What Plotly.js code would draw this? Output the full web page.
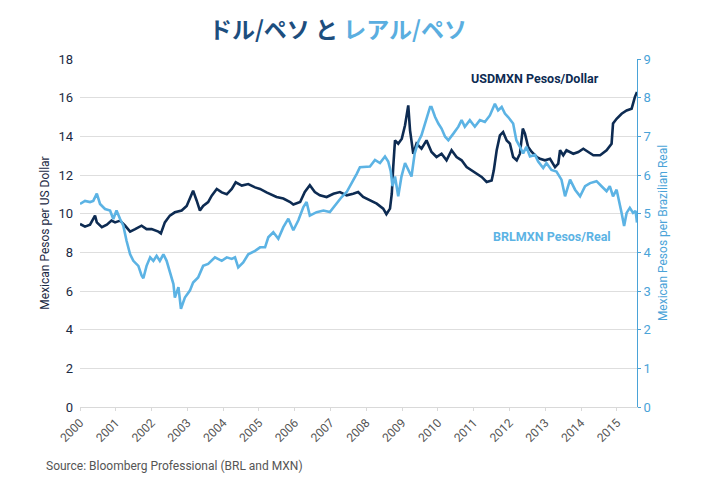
<!DOCTYPE html>
<html>
<head>
<meta charset="utf-8">
<script src="https://cdn.plot.ly/plotly-3.0.1.min.js"></script>
<style>html,body{margin:0;padding:0;background:#fff;}#chart{width:720px;height:500px;}</style>
</head>
<body>
<div id="chart"></div>
<script>
// USDMXN: Mexican pesos per US dollar (left axis), x = fractional year
var usdYears = [2000.00,2000.14,2000.28,2000.42,2000.47,2000.61,2000.75,2000.88,2000.98,2001.12,2001.26,2001.40,2001.54,2001.72,2001.86,2002.00,2002.19,2002.26,2002.37,2002.51,2002.65,2002.84,2002.98,2003.07,2003.16,2003.26,2003.35,2003.44,2003.58,2003.68,2003.82,2003.96,2004.10,2004.24,2004.35,2004.52,2004.70,2004.89,2005.03,2005.21,2005.40,2005.49,2005.68,2005.87,2005.96,2006.15,2006.28,2006.42,2006.56,2006.70,2006.89,2007.08,2007.26,2007.45,2007.63,2007.77,2007.91,2008.10,2008.29,2008.47,2008.56,2008.66,2008.71,2008.75,2008.80,2008.89,2008.99,2009.08,2009.13,2009.17,2009.22,2009.27,2009.31,2009.40,2009.54,2009.68,2009.82,2009.96,2010.10,2010.24,2010.38,2010.52,2010.66,2010.80,2010.94,2011.08,2011.22,2011.36,2011.50,2011.56,2011.64,2011.73,2011.82,2011.92,2012.01,2012.10,2012.20,2012.29,2012.37,2012.43,2012.52,2012.62,2012.76,2012.85,2012.99,2013.13,2013.27,2013.36,2013.41,2013.50,2013.59,2013.78,2013.92,2014.06,2014.20,2014.34,2014.53,2014.71,2014.85,2014.89,2014.99,2015.13,2015.27,2015.41,2015.50,2015.56];
var usdValues = [9.47,9.33,9.43,9.90,9.55,9.30,9.43,9.64,9.55,9.64,9.38,9.07,9.20,9.38,9.20,9.20,9.07,8.98,9.55,9.90,10.07,10.16,10.40,10.84,11.19,10.67,10.16,10.40,10.60,10.93,11.28,11.10,11.00,11.28,11.62,11.45,11.53,11.36,11.28,11.10,10.95,10.86,10.78,10.60,10.47,10.60,11.12,11.47,11.12,10.95,10.86,11.03,11.12,10.95,11.03,11.12,10.86,10.69,10.52,10.26,9.97,10.26,11.03,12.41,13.79,13.62,13.88,14.57,15.09,15.60,14.31,13.53,13.10,13.62,13.36,13.79,13.19,12.93,13.10,12.76,13.28,12.93,12.76,12.41,12.24,12.07,11.90,11.64,11.72,12.24,13.28,14.05,14.22,13.79,13.62,12.93,12.76,13.10,14.40,14.14,13.45,13.19,12.93,12.84,12.76,12.84,12.41,12.59,13.28,13.02,13.28,13.10,13.19,13.36,13.19,13.02,13.02,13.28,13.62,14.66,14.91,15.17,15.34,15.43,16.03,16.29];

// BRLMXN: Mexican pesos per Brazilian real (right axis)
var brlYears = [2000.00,2000.14,2000.28,2000.37,2000.47,2000.56,2000.70,2000.84,2000.93,2001.02,2001.12,2001.21,2001.30,2001.40,2001.49,2001.63,2001.72,2001.77,2001.86,2001.96,2002.05,2002.14,2002.23,2002.33,2002.42,2002.51,2002.61,2002.65,2002.75,2002.82,2002.93,2003.07,2003.16,2003.30,2003.44,2003.58,2003.77,2003.96,2004.10,2004.24,2004.33,2004.42,2004.56,2004.70,2004.89,2005.03,2005.17,2005.26,2005.40,2005.54,2005.68,2005.82,2005.96,2006.10,2006.24,2006.33,2006.42,2006.61,2006.80,2006.98,2007.17,2007.31,2007.45,2007.54,2007.63,2007.73,2007.82,2008.10,2008.24,2008.38,2008.52,2008.61,2008.68,2008.73,2008.80,2008.89,2008.98,2009.08,2009.17,2009.26,2009.35,2009.45,2009.54,2009.68,2009.78,2009.82,2009.92,2010.01,2010.10,2010.20,2010.29,2010.43,2010.57,2010.66,2010.75,2010.89,2011.03,2011.17,2011.31,2011.45,2011.59,2011.68,2011.78,2011.87,2011.96,2012.10,2012.19,2012.29,2012.38,2012.47,2012.57,2012.71,2012.80,2012.94,2013.03,2013.17,2013.31,2013.45,2013.55,2013.69,2013.83,2013.97,2014.11,2014.25,2014.43,2014.57,2014.71,2014.80,2014.89,2014.99,2015.06,2015.13,2015.20,2015.27,2015.36,2015.45,2015.52,2015.56];
var brlValues = [5.25,5.33,5.30,5.33,5.52,5.25,5.12,5.08,4.86,5.08,4.86,4.69,4.30,3.95,3.78,3.65,3.40,3.33,3.65,3.87,3.78,3.91,3.78,3.95,3.78,3.52,3.18,2.83,3.10,2.54,2.83,3.01,3.22,3.35,3.65,3.70,3.87,3.78,3.87,3.83,3.87,3.61,3.74,3.95,4.04,4.13,4.13,4.39,4.52,4.35,4.65,4.87,4.57,4.83,5.17,5.30,4.95,5.04,5.08,5.04,5.26,5.43,5.56,5.73,5.86,6.03,6.20,6.22,6.39,6.31,6.48,6.35,6.10,5.71,5.96,5.45,5.96,6.31,6.13,5.96,6.56,6.86,7.03,7.42,7.76,7.76,7.50,7.33,7.20,6.99,6.90,7.07,7.25,7.42,7.25,7.42,7.25,7.42,7.37,7.54,7.84,7.67,7.76,7.59,7.50,7.33,6.90,6.73,6.56,6.73,6.48,6.52,6.35,6.18,6.31,6.13,6.09,5.88,5.45,5.88,5.62,5.45,5.71,5.79,5.84,5.71,5.58,5.71,5.45,5.62,5.36,5.02,4.68,5.02,5.15,5.02,5.07,4.77];

var yearTicks = [2000,2001,2002,2003,2004,2005,2006,2007,2008,2009,2010,2011,2012,2013,2014,2015];
var yearLabels = ['2000','2001','2002','2003','2004','2005','2006','2007','2008','2009','2010','2011','2012','2013','2014','2015'];
var leftTicks = [0,2,4,6,8,10,12,14,16,18];
var rightTicks = [0,1,2,3,4,5,6,7,8,9];

var NAVY = '#0d2b52';
var LIGHT = '#5cb3e4';
var FONT = 'Roboto, "Liberation Sans", sans-serif';

var traces = [
  {x: brlYears, y: brlValues, yaxis: 'y2', type: 'scatter', mode: 'lines',
   line: {color: LIGHT, width: 2.6}, name: 'BRLMXN Pesos/Real', hoverinfo: 'skip'},
  {x: usdYears, y: usdValues, type: 'scatter', mode: 'lines',
   line: {color: NAVY, width: 2.6}, name: 'USDMXN Pesos/Dollar', hoverinfo: 'skip'}
];

var layout = {
  width: 720, height: 500,
  margin: {l: 80, r: 83, t: 59, b: 93},
  paper_bgcolor: '#ffffff', plot_bgcolor: '#ffffff',
  showlegend: false,
  font: {family: FONT, color: '#1b2a44', size: 13},
  title: {
    text: '<span style="color:#1d4e7e">ドル/ペソ と </span><span style="color:#5aaee0">レアル/ペソ</span>',
    font: {family: '"Noto Sans CJK JP", sans-serif', size: 23, weight: 700},
    x: 0.463, xref: 'paper', xanchor: 'center', y: 0.94, yanchor: 'middle'
  },
  xaxis: {
    range: [2000, 2015.56], tickmode: 'array', tickvals: yearTicks, ticktext: yearLabels,
    tickangle: -45, tickfont: {size: 12, color: '#555555'},
    showgrid: false, zeroline: false, showline: true, linecolor: '#d9d9d9', linewidth: 1,
    ticks: 'outside', ticklen: 3, tickcolor: '#d9d9d9'
  },
  yaxis: {
    range: [0, 18], tickmode: 'array', tickvals: leftTicks,
    tickfont: {size: 13, color: '#1b2a44'},
    showgrid: true, gridcolor: '#dedede', gridwidth: 1, zeroline: false, showline: false,
    ticks: '', ticklabelstandoff: 6,
    title: {text: 'Mexican Pesos per US Dollar', font: {size: 12, color: '#1b2a44'}, standoff: 6}
  },
  yaxis2: {
    overlaying: 'y', side: 'right', range: [0, 9], tickmode: 'array', tickvals: rightTicks,
    tickfont: {size: 13, color: '#4aa3d8'},
    showgrid: false, zeroline: false, showline: true, linecolor: '#4aa3d8', linewidth: 1,
    ticks: 'outside', ticklen: 3, tickcolor: '#4aa3d8',
    title: {text: 'Mexican Pesos per Brazilian Real', font: {size: 12, color: '#4aa3d8'}, standoff: 8}
  },
  annotations: [
    {xref: 'paper', yref: 'paper', x: 0.935, y: 0.944, xanchor: 'right', yanchor: 'middle',
     text: '<b>USDMXN Pesos/Dollar</b>', showarrow: false, font: {size: 12.5, color: NAVY}},
    {xref: 'paper', yref: 'paper', x: 0.957, y: 0.49, xanchor: 'right', yanchor: 'middle',
     text: '<b>BRLMXN Pesos/Real</b>', showarrow: false, font: {size: 12.5, color: LIGHT}},
    {xref: 'paper', yref: 'paper', x: -0.065, y: -0.17, xanchor: 'left', yanchor: 'middle',
     text: 'Source: Bloomberg Professional (BRL and MXN)', showarrow: false,
     font: {size: 12, color: '#555555'}}
  ]
};

Plotly.newPlot('chart', traces, layout, {displayModeBar: false, staticPlot: true});
</script>
</body>
</html>
